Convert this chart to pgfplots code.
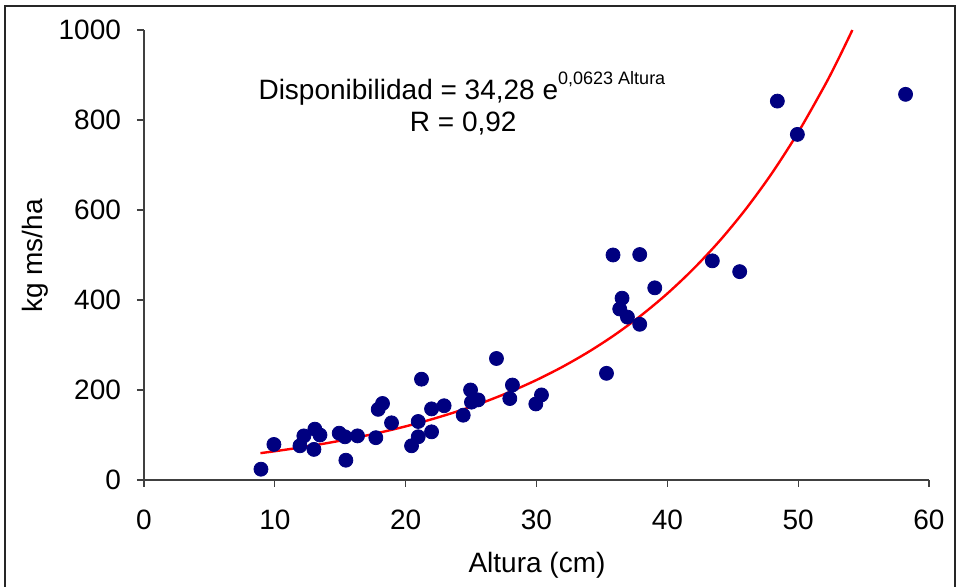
\documentclass[border=0pt]{standalone}
\usepackage{fontspec}
\setmainfont{Liberation Sans}
\usepackage{pgfplots}
\pgfplotsset{compat=1.18}
\definecolor{ptnavy}{RGB}{0,0,128}

\begin{document}
\begin{tikzpicture}
% 1 px of the reference = 0.5pt; axis origin at px (144,480)
\useasboundingbox (-72pt,-53.5pt) rectangle (408pt,240pt);
\draw[black!85, line width=0.7pt] (-69.5pt,-60pt) -- (-69.5pt,237pt) -- (405.5pt,237pt) -- (405.5pt,-60pt);
\begin{axis}[
    at={(0,0)}, anchor=south west,
    scale only axis,
    width=392.5pt, height=225pt,
    xmin=0, xmax=60, ymin=0, ymax=1000,
    xtick={0,10,...,60},
    ytick={0,200,...,1000},
    axis x line*=bottom, axis y line*=left,
    axis line style={black!75, line width=0.6pt},
    tick style={black!75, line width=0.6pt},
    tick align=outside,
    major tick length=3.5pt,
    tick label style={font=\fontsize{14}{16}\selectfont},
    xticklabel style={yshift=-8pt},
    yticklabel style={xshift=-4.5pt},
    /pgf/number format/assume math mode=true,
    /pgf/number format/1000 sep={},
    clip=false,
]
% observations
\addplot[only marks, mark=*, mark size=3.5pt, ptnavy, mark options={fill=ptnavy, draw=ptnavy}]
coordinates {
(8.94,24)(9.93,79)(11.92,76)(12.22,98)(13.06,113)(13.45,100)(12.99,68)
(14.92,104)(15.36,96)(15.43,44)(16.32,98)(17.72,94)(17.9,157)(18.23,170)
(18.92,127)(21.21,224)(20.45,76)(20.96,96)(20.96,130)(21.98,107)(21.98,158)
(22.94,165)(24.4,144)(24.96,200)(25.03,173)(25.54,178)(26.94,270)(28.16,211)
(27.96,181)(29.95,169)(30.38,189)(35.35,237)(35.85,500)(37.89,501)(39.04,427)
(36.54,404)(36.36,380)(36.95,362)(37.89,346)(43.44,487)(45.53,463)(48.41,842)
(49.94,768)(58.21,857)
};
% exponential trend line
\addplot[red, line width=1.2pt, smooth] coordinates {
(8.9,59.7)(10,63.9)(12,72.4)(14,82.0)(16,92.9)(18,105.2)(20,119.2)(22,135.0)
(24,152.9)(26,173.2)(28,196.2)(30,222.2)(32,251.7)(34,285.1)(36,322.9)
(38,365.8)(40,414.3)(42,469.3)(44,531.5)(46,602.1)(48,682.0)(50,772.5)
(52,875.0)(53,931.2)(54,991.1)(54.14,1000)
};
\node[font=\fontsize{14}{16}\selectfont, anchor=base] at (axis cs:24.3,845)
  {Disponibilidad = 34,28 e\raisebox{1.05ex}{\fontsize{9}{10}\selectfont 0,0623 Altura}};
\node[font=\fontsize{14}{16}\selectfont, anchor=base] at (axis cs:24.4,775) {R = 0,92};
\end{axis}
\node[font=\fontsize{14}{16}\selectfont] at (196.5pt,-42.5pt) {Altura (cm)};
\node[font=\fontsize{14}{16}\selectfont, rotate=90] at (-54.5pt,112pt) {kg ms/ha};
\end{tikzpicture}
\end{document}
